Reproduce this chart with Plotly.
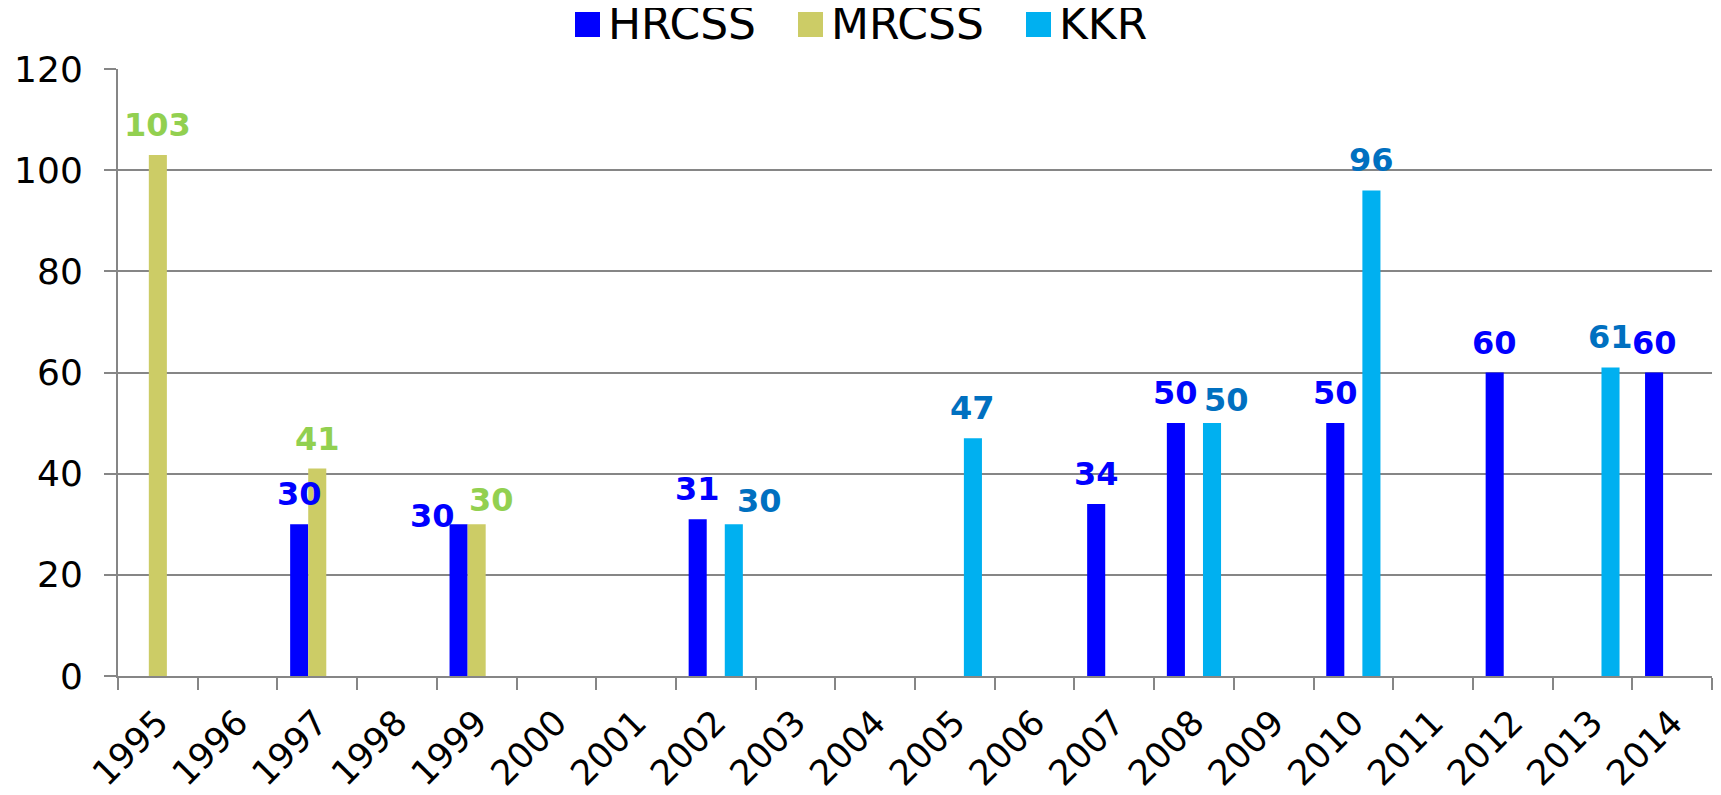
import plotly.graph_objects as go

# ---- data ----
years = [str(y) for y in range(1995, 2015)]
series_names = ["HRCSS", "MRCSS", "KKR"]
hrcss = {"1997": 30, "1999": 30, "2002": 31, "2007": 34, "2008": 50,
         "2010": 50, "2012": 60, "2014": 60}
mrcss = {"1995": 103, "1997": 41, "1999": 30}
kkr = {"2002": 30, "2005": 47, "2008": 50, "2010": 96, "2013": 61}
y_ticks = [0, 20, 40, 60, 80, 100, 120]

# ---- styles ----
bar_colors = ["#0000FF", "#CCCC66", "#00B0F0"]
label_colors = ["#0000FF", "#92D050", "#0070C0"]
FONT = "DejaVu Sans"
GRID = "#868686"

OFF = 8                      # default page body margin
W, H = 1721 - OFF, 795 - OFF
PL, PR, PT, PB = 118, 1712, 69, 676   # plot area in page pixels
ML, MT = PL - OFF, PT - OFF
MR = W - (PR - OFF)
MB = H - (PB - OFF)
PW = PR - PL
PH = PB - PT
BARGAP = 0.32
slot_px = (1 - BARGAP) / 3 * PW / len(years)


def px_x(px):
    return (px - PL) / PW


def px_y(py):
    return (PB - py) / PH


# label nudges (px) for a few labels placed off-centre in the original
nudges = {("HRCSS", "1999"): (-26, -22), ("MRCSS", "1999"): (15, -6),
          ("KKR", "2002"): (26, -7), ("KKR", "2008"): (14, -7)}

all_series = [hrcss, mrcss, kkr]
fig = go.Figure()
annotations = []
for i, (name, data) in enumerate(zip(series_names, all_series)):
    yv = [data.get(y) for y in years]
    fig.add_trace(go.Bar(x=years, y=yv, name=name, marker_color=bar_colors[i],
                         marker_line_width=0, showlegend=False))
    for yr, v in data.items():
        dx, dy = nudges.get((name, yr), (0, 0))
        annotations.append(dict(
            x=years.index(yr), y=v, xref="x", yref="y", text=str(v), showarrow=False,
            xshift=(i - 1) * slot_px + dx, yshift=30 + dy, yanchor="middle",
            font=dict(family=FONT, size=32, color=label_colors[i], weight="bold")))

# custom legend (large square swatches)
legend_sq = [575, 798, 1026]
for i, name in enumerate(series_names):
    x0 = legend_sq[i]
    fig.add_shape(type="rect", xref="paper", yref="paper",
                  x0=px_x(x0), x1=px_x(x0 + 25),
                  y0=px_y(37), y1=px_y(12),
                  fillcolor=bar_colors[i], line_width=0)
    annotations.append(dict(
        x=px_x(x0 + 31), y=px_y(24), xref="paper", yref="paper",
        text=name, showarrow=False, xanchor="left", yanchor="middle",
        font=dict(family=FONT, size=44, color="#000000")))

fig.update_layout(
    width=W, height=H,
    margin=dict(l=ML, r=MR, t=MT, b=MB, autoexpand=False),
    barmode="group", bargap=BARGAP, bargroupgap=0,
    plot_bgcolor="white", paper_bgcolor="white",
    showlegend=False,
    annotations=annotations,
    font=dict(family=FONT, color="#000000"),
)
fig.update_xaxes(type="category", categoryorder="array", categoryarray=years,
                 range=[-0.5, len(years) - 0.5], automargin=False,
                 tickson="boundaries", ticks="outside", ticklen=12, tickwidth=2,
                 tickcolor=GRID, showline=True, linecolor=GRID, linewidth=2,
                 showgrid=False, tickangle=-45, ticklabelstandoff=10,
                 tickfont=dict(family=FONT, size=35, color="#000000"))
fig.update_yaxes(range=[0, 120], tickvals=y_ticks, ticks="outside", ticklen=12,
                 tickwidth=2, tickcolor=GRID, showline=True, linecolor=GRID,
                 linewidth=2, showgrid=True, gridcolor=GRID, gridwidth=2,
                 zeroline=False, ticklabelstandoff=14, automargin=False,
                 tickfont=dict(family=FONT, size=36, color="#000000"))

fig.write_html("out.html")
